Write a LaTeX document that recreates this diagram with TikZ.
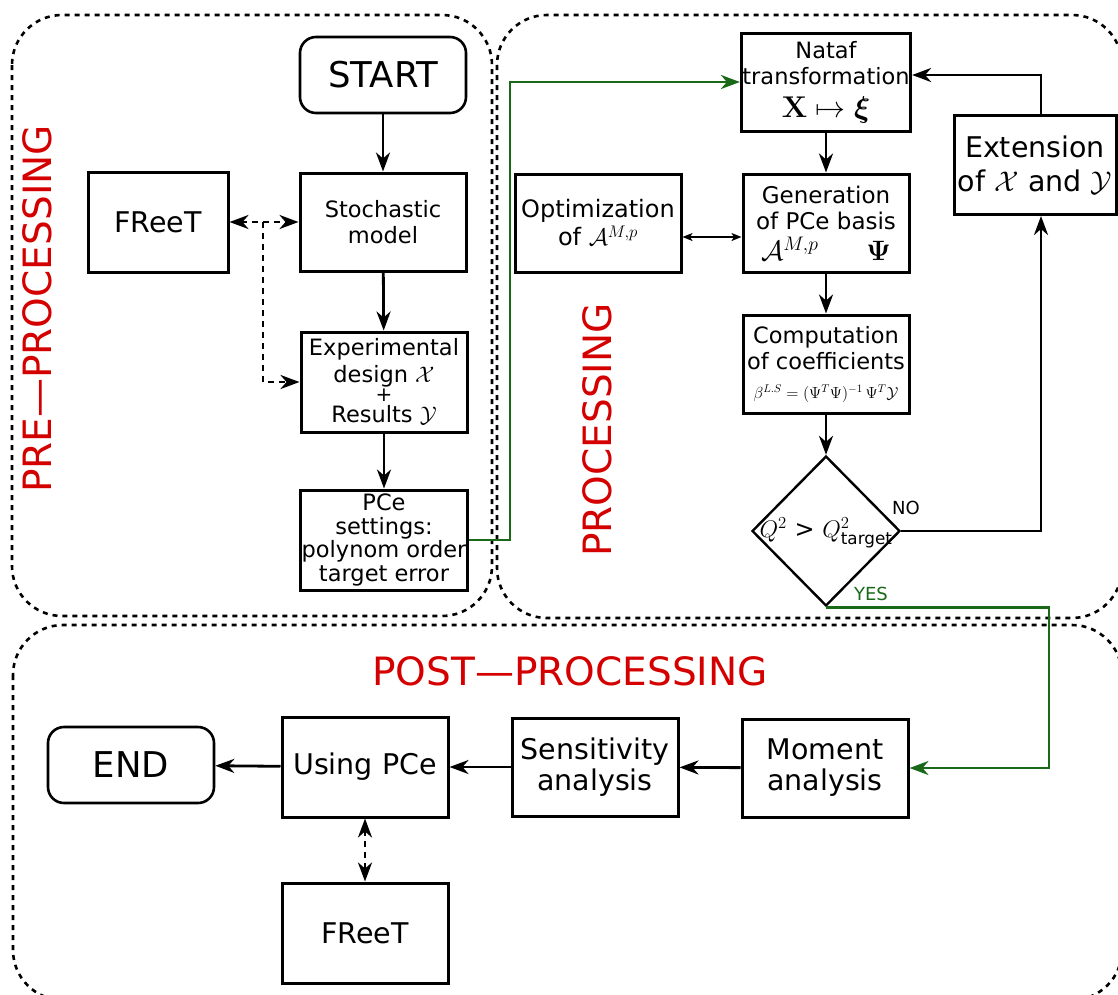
\RequirePackage{fix-cm}
\documentclass[tikz,border=0pt]{standalone}
\usepackage{amsmath}
\usepackage[no-math]{fontspec}
\newfontfamily\dv{DejaVu Sans}
\usetikzlibrary{arrows.meta,shapes.geometric}
\definecolor{stagered}{RGB}{212,0,0}
\definecolor{yesgreen}{RGB}{25,105,25}
\newcommand\fsz[2]{\fontsize{#1}{#2}\selectfont}
\tikzset{
  stage/.style={draw, line width=2.6pt, dash pattern=on 5pt off 5pt, rounded corners=50pt},
  stagename/.style={text=stagered, font=\dv\fsz{39}{40}},
  proc/.style={draw, line width=3pt, minimum width=166pt, minimum height=98pt,
    inner sep=1pt, align=center, font=\dv\fsz{22.5}{26}},
  bigproc/.style={proc, font=\dv\fsz{28.5}{31}},
  term/.style={proc, line width=2.6pt, minimum height=76pt, rounded corners=16pt, font=\dv\fsz{35.5}{37}},
  decision/.style={draw, shape=diamond, line width=2.4pt, minimum width=148pt,
    minimum height=150pt, inner sep=0pt},
  flow/.style={line width=2.8pt, ->},
  gflow/.style={flow, draw=yesgreen},
  link/.style={line width=2.8pt, dash pattern=on 6pt off 5pt},
  thinflow/.style={line width=1.5pt, {Stealth[length=10pt,width=8pt,inset=2.5pt]}-{Stealth[length=10pt,width=8pt,inset=2.5pt]}},
  tag/.style={font=\dv\fsz{18}{19}},
  >={Stealth[length=19pt,width=14pt,inset=6pt]}
}
\begin{document}
\begin{tikzpicture}[x=1pt, y=-1pt]
\useasboundingbox (0,0) rectangle (1118,994);
\clip (0,0) rectangle (1118,994);

% stage frames and their titles
\draw[stage] (12,15) rectangle (492,616);
\draw[stage] (497,15) rectangle (1122,618);
\draw[stage] (13,625) rectangle (1122,1000);
\node[stagename, rotate=90] (tpre) at (37,309) {PRE—PROCESSING};
\node[stagename, rotate=90] (tproc) at (597,430) {PROCESSING};
\node[stagename] (tpost) at (570,671) {POST—PROCESSING};

% pre-processing
\node[term] (start) at (383,75) {START};
\node[proc] (stoch) at (383,222) {Stochastic\\model};
\node[bigproc, minimum width=140pt, minimum height=100pt] (freetA) at (158,222) {FReeT};
\node[proc, minimum height=100pt, font=\dv\fsz{22.5}{27}] (exp) at (384,382)
  {Experimental\\design $\mathcal{X}$\\[-8pt]{\fsz{20}{20}+}\\[-6pt]Results $\mathcal{Y}$};
\node[proc, minimum height=100pt, font=\dv\fsz{22.5}{23.5}] (pce) at (384,540)
  {PCe\\settings:\\polynom order\\target error};

% processing
\node[proc] (nataf) at (826,82)
  {Nataf\\transformation\\[7pt]{\fsz{30}{30}$\mathbf{X}\mapsto\boldsymbol{\xi}$}};
\node[bigproc, minimum width=162pt, minimum height=99pt, font=\dv\fsz{28.5}{34}] (ext) at (1035,165)
  {Extension\\of $\mathcal{X}$ and $\mathcal{Y}$};
\node[proc, font=\dv\fsz{24}{28}] (opt) at (598,223) {Optimization\\of $\mathcal{A}^{M,p}$};
\node[proc, font=\dv\fsz{23}{26}] (gen) at (826,223)
  {Generation\\of PCe basis\\[5pt]{\fsz{28}{28}$\mathcal{A}^{M,p}$\hspace{48pt}$\mathbf{\Psi}$}};
\node[proc] (comp) at (826,364)
  {Computation\\of coefficients\\[3pt]{\fsz{16}{16}$\beta^{L.S}=(\Psi^T\Psi)^{-1}\,\Psi^T\mathcal{Y}$}};
\node[decision] (q) at (826,531) {};
\node[font=\dv\fsz{24}{26}] (qtext) at (826,533) {$Q^2$ > $Q^2_{\text{target}}$};
\node[tag] (no) at (906,508) {NO};
\node[tag, text=yesgreen] (yes) at (871,594) {YES};

% post-processing
\node[bigproc] (moment) at (825,768) {Moment\\analysis};
\node[bigproc] (sens) at (595,767) {Sensitivity\\analysis};
\node[bigproc, minimum height=100pt] (using) at (365,767) {Using PCe};
\node[term] (finish) at (131,765) {END};
\node[bigproc, minimum height=100pt] (freetB) at (365,933) {FReeT};

% connectors
\draw[flow] (start) -- (stoch);
\draw[flow] (stoch) -- (exp);
\draw[flow] (exp) -- (pce);
\draw[link, <->] (freetA) -- (stoch);
\coordinate (fork) at (263,222);
\draw[link, ->] (fork) |- (exp.west);

\coordinate (gbend) at (510,300);
\draw[gflow] (pce.east) -| (gbend) |- (nataf.west);

\draw[flow] (nataf) -- (gen);
\draw[thinflow] ([yshift=-14pt]opt.east) -- ([yshift=-14pt]gen.west);
\draw[flow] (gen) -- (comp);
\draw[flow] (comp) -- (q.north);
\draw[flow] (q.east) -| ([xshift=6pt]ext.south);
\draw[flow] ([xshift=6pt]ext.north) |- ([yshift=7pt]nataf.east);

\coordinate (ybend) at (1049,700);
\draw[gflow] (q.south) -| (ybend) |- (moment.east);

\draw[flow] (moment) -- (sens);
\draw[flow] (sens) -- (using);
\draw[flow] (using) -- (finish);
\draw[link, <->] (using) -- (freetB);
\end{tikzpicture}
\end{document}
